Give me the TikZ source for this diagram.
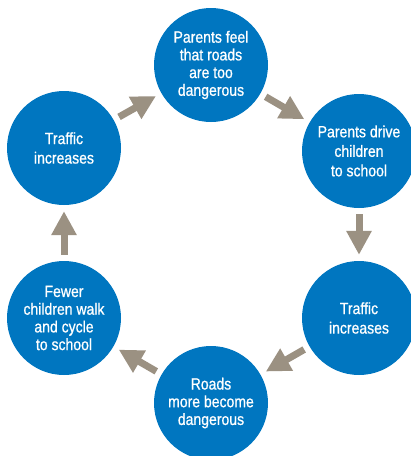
\documentclass[tikz,border=0pt]{standalone}
\usepackage{fontspec}
\setmainfont{Liberation Sans}[FakeStretch=0.86,FakeBold=0.8]
\usetikzlibrary{arrows.meta}
\definecolor{cblue}{RGB}{0,118,192}
\definecolor{cgray}{RGB}{155,145,130}
\begin{document}
\begin{tikzpicture}[x=1pt,y=-1pt,
  bub/.style={circle,fill=cblue,minimum size=114pt,inner sep=0pt,text=white,align=center,font=\fontsize{16.3}{17.7}\selectfont},
  wide/.style={font=\fontsize{16.3}{19.5}\selectfont},
  arr/.style={draw=cgray,line width=7pt,-{Triangle[width=24pt,length=24pt]},shorten <=6pt,shorten >=6pt}]
\useasboundingbox (0,0) rectangle (411,456);
\node[bub] (A) at (211,65) {Parents feel\\that roads\\are too\\dangerous};
\node[bub,wide] (B) at (359,151) {Parents drive\\children\\to school};
\node[bub,wide] (C) at (359,318) {Traffic\\increases};
\node[bub] (D) at (211,403) {Roads\\more become\\dangerous};
\node[bub] (E) at (64,318) {Fewer\\children walk\\and cycle\\to school};
\node[bub,wide] (F) at (64,148) {Traffic\\increases};
\draw[arr] (A) -- (B);
\draw[arr] (B) -- (C);
\draw[arr] (C) -- (D);
\draw[arr] (D) -- (E);
\draw[arr] (E) -- (F);
\draw[arr] (F) -- (A);
\end{tikzpicture}
\end{document}
